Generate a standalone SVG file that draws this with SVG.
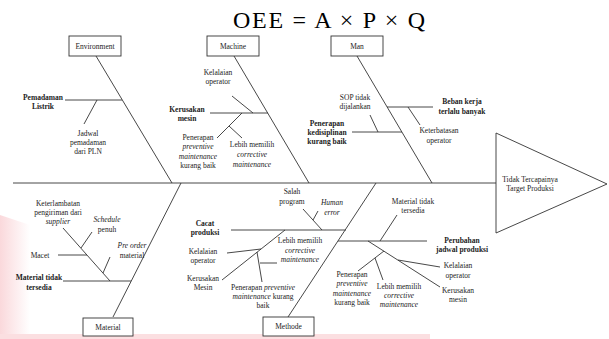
<svg xmlns="http://www.w3.org/2000/svg" width="609" height="339" viewBox="0 0 609 339" font-family="'DejaVu Serif', serif">
<style>
text{font-family:"Liberation Serif","DejaVu Serif",serif;font-size:7.5px;fill:#222;text-anchor:middle}
.b{font-weight:bold}
.i{font-style:italic}
.t{font-size:24px;fill:#000}
.ln line{stroke:#333;stroke-width:0.9;fill:none}
.box{fill:#fff;stroke:#333;stroke-width:0.9}
</style>
<defs>
<linearGradient id="wm" x1="0" y1="0" x2="1" y2="0">
<stop offset="0" stop-color="#f8c8cc" stop-opacity="0.7"/>
<stop offset="1" stop-color="#f8c8cc" stop-opacity="0"/>
</linearGradient>
</defs>
<rect width="609" height="339" fill="#fff"/>
<polygon points="0,215 30,225 30,339 0,339" fill="url(#wm)"/>
<rect x="0" y="334" width="430" height="5" fill="#fbdfe1"/>
<text class="t" x="329" y="28" textLength="192" lengthAdjust="spacing">OEE = A × P × Q</text>

<g id="connectors" class="ln">
<line x1="13" y1="183" x2="496" y2="183"/>
<line x1="96" y1="56" x2="172" y2="183"/>
<line x1="65" y1="100" x2="122" y2="100"/>
<line x1="97" y1="100" x2="84" y2="124"/>
<line x1="234" y1="56" x2="309" y2="183"/>
<line x1="210" y1="113" x2="268" y2="113"/>
<line x1="232" y1="96" x2="253" y2="113"/>
<line x1="242" y1="113" x2="217" y2="138"/>
<line x1="229" y1="126" x2="242" y2="138"/>
<line x1="357" y1="56" x2="432" y2="183"/>
<line x1="387" y1="107" x2="433" y2="107"/>
<line x1="408" y1="107" x2="420" y2="125"/>
<line x1="352" y1="132" x2="402" y2="132"/>
<line x1="370" y1="115" x2="378" y2="132"/>
<line x1="113" y1="317" x2="181" y2="183"/>
<line x1="63" y1="281" x2="131" y2="281"/>
<line x1="110" y1="281" x2="63" y2="228"/>
<line x1="58" y1="255" x2="87" y2="255"/>
<line x1="81" y1="248" x2="92" y2="232"/>
<line x1="103" y1="273" x2="110" y2="257"/>
<line x1="288" y1="317" x2="376" y2="183"/>
<line x1="231" y1="230" x2="346" y2="230"/>
<line x1="303" y1="209" x2="322" y2="230"/>
<line x1="313" y1="220" x2="318" y2="211"/>
<line x1="285" y1="230" x2="222" y2="280"/>
<line x1="227" y1="253" x2="261" y2="249"/>
<line x1="257" y1="252" x2="262" y2="282"/>
<line x1="260" y1="263" x2="277" y2="263"/>
<line x1="338" y1="241" x2="427" y2="241"/>
<line x1="380" y1="241" x2="397" y2="215"/>
<line x1="368" y1="241" x2="440" y2="287"/>
<line x1="398" y1="260" x2="440" y2="267"/>
<line x1="384" y1="251" x2="358" y2="271"/>
<line x1="375" y1="258" x2="383" y2="280"/>
</g>

<g id="head">
<polygon class="box" points="496,133 607,184 496,233"/>
<text x="530" y="182">Tidak Tercapainya</text>
<text x="530" y="191">Target Produksi</text>
</g>

<g id="environment">
<rect class="box" x="69" y="36" width="52" height="20"/>
<text x="95" y="48.5">Environment</text>
<text class="b" x="43" y="99.5">Pemadaman</text>
<text class="b" x="43" y="108.5">Listrik</text>
<text x="88" y="135.5">Jadwal</text>
<text x="88" y="144.5">pemadaman</text>
<text x="88" y="153.5">dari PLN</text>
</g>

<g id="machine">
<rect class="box" x="207" y="36" width="52" height="20"/>
<text x="233" y="48.5">Machine</text>
<text x="218" y="75">Kelalaian</text>
<text x="218" y="84">operator</text>
<text class="b" x="187" y="111.5">Kerusakan</text>
<text class="b" x="187" y="120.5">mesin</text>
<text x="198" y="139.5">Penerapan</text>
<text class="i" x="198" y="149">preventive</text>
<text class="i" x="198" y="159">maintenance</text>
<text x="198" y="168">kurang baik</text>
<text x="252" y="147">Lebih memilih</text>
<text class="i" x="252" y="157">corrective</text>
<text class="i" x="252" y="166.5">maintenance</text>
</g>

<g id="man">
<rect class="box" x="331" y="36" width="52" height="20"/>
<text x="357" y="48.5">Man</text>
<text x="355" y="99.5">SOP tidak</text>
<text x="355" y="108.5">dijalankan</text>
<text class="b" x="327" y="125.5">Penerapan</text>
<text class="b" x="327" y="134.5">kedisiplinan</text>
<text class="b" x="327" y="143.5">kurang baik</text>
<text class="b" x="462" y="103.5">Beban kerja</text>
<text class="b" x="462" y="113.5">terlalu banyak</text>
<text x="439" y="132.5">Keterbatasan</text>
<text x="439" y="142.5">operator</text>
</g>

<g id="material">
<rect class="box" x="83" y="318" width="50" height="18"/>
<text x="108" y="329.5">Material</text>
<text x="58" y="205.5">Keterlambatan</text>
<text x="58" y="215">pengiriman dari</text>
<text class="i" x="58" y="224">supplier</text>
<text class="i" x="107" y="222">Schedule</text>
<text x="107" y="232">penuh</text>
<text x="40" y="257.5">Macet</text>
<text class="i" x="132" y="247.5">Pre order</text>
<text x="132" y="257.5">material</text>
<text class="b" x="39" y="279.5">Material tidak</text>
<text class="b" x="39" y="289.5">tersedia</text>
</g>

<g id="methode">
<rect class="box" x="263" y="317" width="51" height="19"/>
<text x="288.5" y="329">Methode</text>
<text x="292" y="193.5">Salah</text>
<text x="292" y="203.5">program</text>
<text class="i" x="332" y="204.5">Human</text>
<text class="i" x="332" y="214.5">error</text>
<text class="b" x="205" y="225.5">Cacat</text>
<text class="b" x="205" y="234.5">produksi</text>
<text x="203" y="253.5">Kelalaian</text>
<text x="203" y="262.5">operator</text>
<text x="203" y="280.5">Kerusakan</text>
<text x="203" y="289.5">Mesin</text>
<text x="263" y="289.5">Penerapan <tspan class="i">preventive</tspan></text>
<text x="263" y="298.5"><tspan class="i">maintenance</tspan> kurang</text>
<text x="263" y="307.5">baik</text>
<text x="300" y="243">Lebih memilih</text>
<text class="i" x="300" y="252.5">corrective</text>
<text class="i" x="300" y="261.5">maintenance</text>
<text x="413" y="203.5">Material tidak</text>
<text x="413" y="212.5">tersedia</text>
<text class="b" x="462" y="242.5">Perubahan</text>
<text class="b" x="462" y="251.5">jadwal produksi</text>
<text x="458" y="267.5">Kelalaian</text>
<text x="458" y="277.5">operator</text>
<text x="458" y="292.5">Kerusakan</text>
<text x="458" y="301.5">mesin</text>
<text x="352" y="276.5">Penerapan</text>
<text class="i" x="352" y="286">preventive</text>
<text class="i" x="352" y="295.5">maintenance</text>
<text x="352" y="304.5">kurang baik</text>
<text x="399" y="288.5">Lebih memilih</text>
<text class="i" x="399" y="297.5">corrective</text>
<text class="i" x="399" y="306.5">maintenance</text>
</g>
</svg>
